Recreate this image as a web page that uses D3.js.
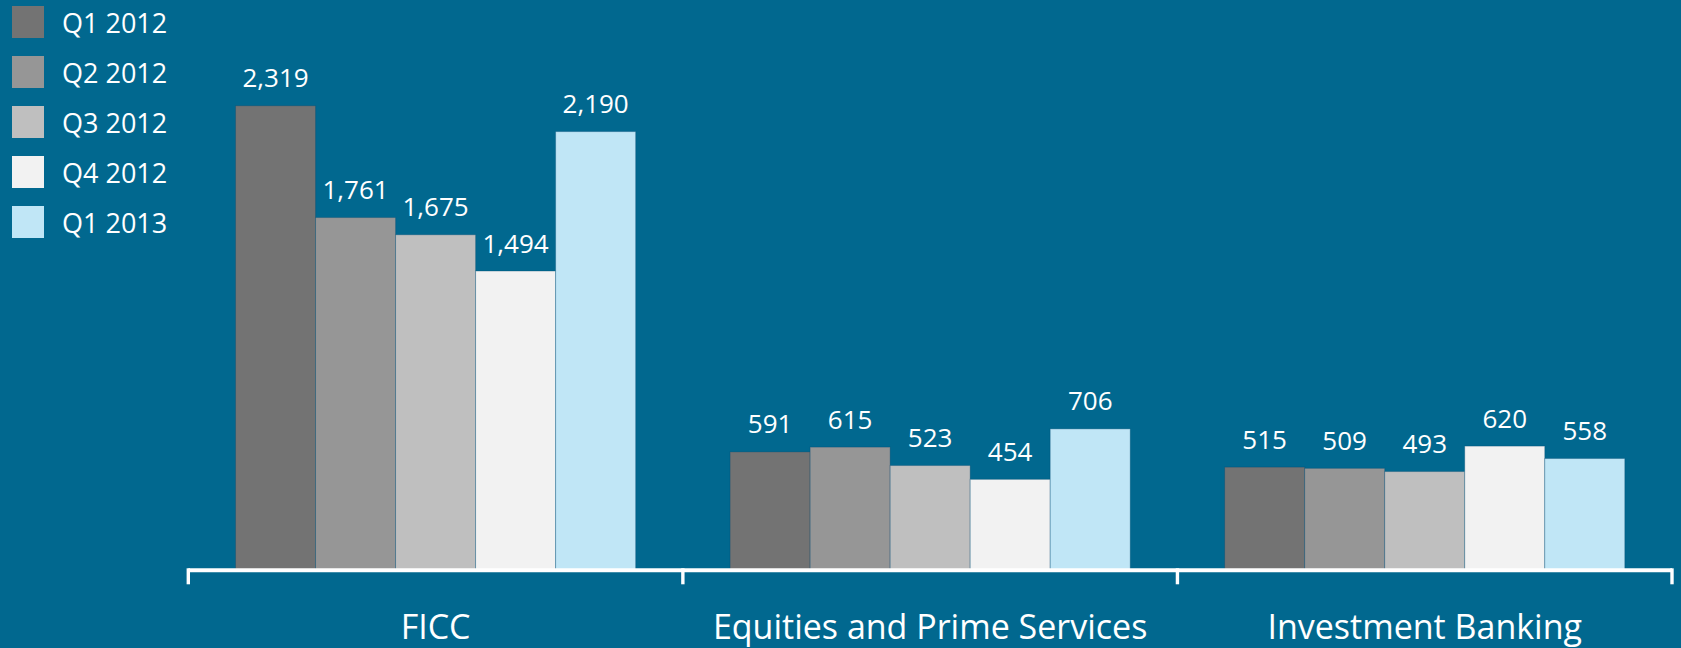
<!DOCTYPE html>
<html>
<head>
<meta charset="utf-8">
<script src="https://cdn.jsdelivr.net/npm/d3@7"></script>
<style>
  html, body { margin: 0; padding: 0; background: #01688f; }
  svg { display: block; font-family: "Open Sans", sans-serif; }
</style>
</head>
<body>
<svg id="chart" width="1681" height="648"></svg>
<script>
var categories = ["FICC", "Equities and Prime Services", "Investment Banking"];
var quarters = ["Q1 2012", "Q2 2012", "Q3 2012", "Q4 2012", "Q1 2013"];
var q1_2012 = [2319, 591, 515];
var q2_2012 = [1761, 615, 509];
var q3_2012 = [1675, 523, 493];
var q4_2012 = [1494, 454, 620];
var q1_2013 = [2190, 706, 558];
var colors = ["#737373", "#969696", "#bfbfbf", "#f2f2f2", "#c0e6f6"];

var series = [q1_2012, q2_2012, q3_2012, q4_2012, q1_2013];
var svg = d3.select('#chart');
var fmt = d3.format(",");

var x = d3.scaleBand()
  .domain(categories)
  .range([188.3, 1672])
  .padding(0);

var xInner = d3.scaleBand()
  .domain(quarters)
  .range([0, x.bandwidth()])
  .paddingInner(0)
  .paddingOuter(0.59);

var y = d3.scaleLinear()
  .domain([0, 2847])
  .range([570.3, 0]);

// one group per category
var groups = svg.append("g")
  .attr("class", "groups")
  .selectAll("g")
  .data(categories)
  .enter().append("g")
  .attr("transform", function(d) { return "translate(" + x(d) + ",0)"; });

groups.selectAll("rect")
  .data(function(d, ci) {
    return quarters.map(function(q, qi) { return {q: q, qi: qi, v: series[qi][ci]}; });
  })
  .enter().append("rect")
  .attr("x", function(d) { return xInner(d.q); })
  .attr("y", function(d) { return y(d.v); })
  .attr("width", xInner.bandwidth())
  .attr("height", function(d) { return y(0) - y(d.v); })
  .attr("fill", function(d) { return colors[d.qi]; })
  .attr("stroke", "rgba(0,70,110,0.3)")
  .attr("stroke-width", 1);

groups.selectAll("text")
  .data(function(d, ci) {
    return quarters.map(function(q, qi) { return {q: q, qi: qi, v: series[qi][ci]}; });
  })
  .enter().append("text")
  .attr("x", function(d) { return xInner(d.q) + xInner.bandwidth() / 2; })
  .attr("y", function(d) { return y(d.v) - 18.5; })
  .attr("text-anchor", "middle")
  .attr("fill", "#fff")
  .attr("font-size", 26)
  .text(function(d) { return fmt(d.v); });

// bracket-style axis
var bounds = categories.map(function(c) { return x(c); }).concat([x.range()[1]]);
var axis = svg.append("g").attr("class", "axis");
axis.append("line")
  .attr("x1", bounds[0]).attr("x2", bounds[bounds.length - 1])
  .attr("y1", y(0)).attr("y2", y(0))
  .attr("stroke", "#fff").attr("stroke-width", 4);
axis.selectAll("line.tick")
  .data(bounds)
  .enter().append("line")
  .attr("class", "tick")
  .attr("x1", function(d) { return d; }).attr("x2", function(d) { return d; })
  .attr("y1", y(0) - 2).attr("y2", 584.3)
  .attr("stroke", "#fff").attr("stroke-width", 3.4);

axis.selectAll("text")
  .data(categories)
  .enter().append("text")
  .attr("x", function(d) { return x(d) + x.bandwidth() / 2; })
  .attr("y", 639)
  .attr("text-anchor", "middle")
  .attr("fill", "#fff")
  .attr("font-size", 34)
  .text(function(d) { return d; });

// legend
var legend = svg.append("g")
  .attr("class", "legend")
  .selectAll("g")
  .data(quarters)
  .enter().append("g")
  .attr("transform", function(d, i) { return "translate(12," + (6 + i * 50) + ")"; });

legend.append("rect")
  .attr("width", 32)
  .attr("height", 32)
  .attr("fill", function(d, i) { return colors[i]; });

legend.append("text")
  .attr("x", 50)
  .attr("y", 27.3)
  .attr("fill", "#fff")
  .attr("font-size", 27)
  .text(function(d) { return d; });
</script>
</body>
</html>
